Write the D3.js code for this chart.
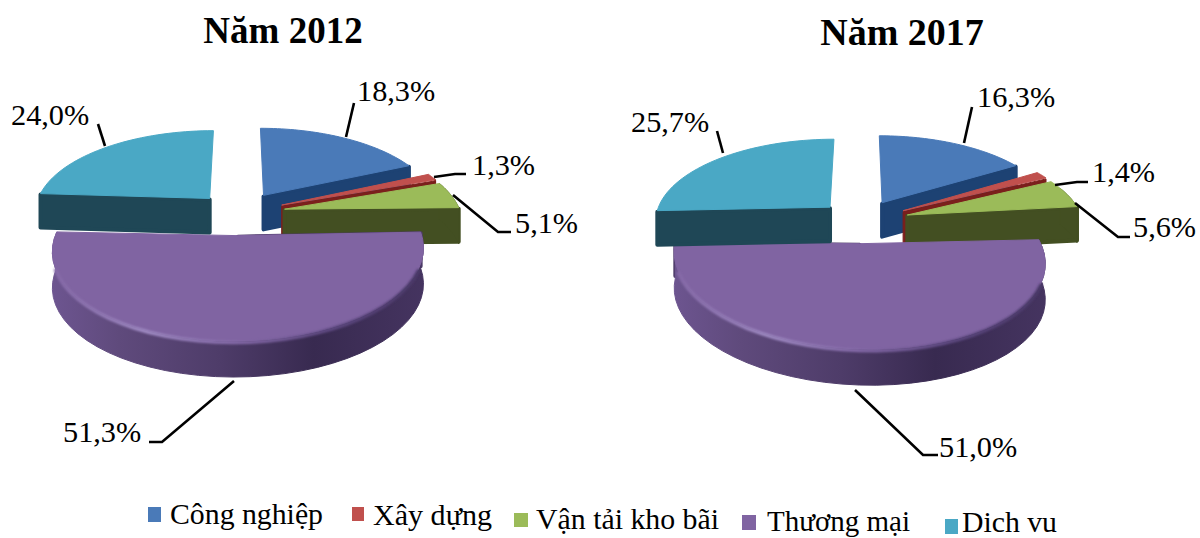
<!DOCTYPE html>
<html lang="vi"><head><meta charset="utf-8">
<script src="https://cdn.jsdelivr.net/npm/d3@7"></script>
<style>html,body{margin:0;background:#fff}svg{display:block}text{font-family:"Liberation Serif","Times New Roman",serif;fill:#000}</style>
</head><body><svg id="c" width="1200" height="538"></svg>
<script>
// ---- data ----
const categories = ["Công nghiệp","Xây dựng","Vận tải kho bãi","Thương mại","Dich vu"];
const values2012 = [18.3,1.3,5.1,51.3,24.0];
const values2017 = [16.3,1.4,5.6,51.0,25.7];
const labels2012 = ["18,3%","1,3%","5,1%","51,3%","24,0%"];
const labels2017 = ["16,3%","1,4%","5,6%","51,0%","25,7%"];
const titles = ["Năm 2012","Năm 2017"];
const topColors  = ["#4a7ab8","#c0504d","#9bbb59","#8064a2","#4aa8c5"];
const wallColors = ["#1d4273","#7b1f1c","#434f22","#4d3b68","#1f4756"];

// ---- layout ----
const svg = d3.select("#c");
const defs = svg.append("defs");
defs.append("filter").attr("id","soft").append("feGaussianBlur").attr("stdDeviation",1.1);
const R=176,H=82,K=0.15,D=36;
const explode=[0.265,0.265,0.265,0.265,0.25];
const pie = d3.pie().sort(null).value(d=>d);
const lineGen = d3.line().x(d=>d[0]).y(d=>d[1]);

const panels = [
 {id:0,values:values2012,labels:labels2012,title:titles[0],titleX:283,titleY:43,titleSize:37,cx:239,cy:213,
  nudge:[0,0,0,0,0],shear:[0,0,0,-0.01,0],
  leaders:[[[346,137],[354,103]],[[434,177],[455,174],[466,174]],[[453,195],[498,232],[511,232]],[[234,381],[162,442],[149,442]],[[105,146],[98,124]]],
  anchors:[[357,101],[472,175],[515,233],[63,442],[11,125]]},
 {id:1,values:values2017,labels:labels2017,title:titles[1],titleX:902,titleY:45,titleSize:38,cx:860,cy:221,
  nudge:[0,3,3,-4,1],shear:[0,0,0,0.03,0],
  leaders:[[[964,143],[972,107]],[[1055,185],[1077,182],[1088,182]],[[1075,203],[1118,237],[1130,237]],[[855,390],[923,455],[938,455]],[[723,153],[717,131]]],
  anchors:[[977,107],[1092,182],[1133,237],[939,457],[631,132]]}
];

function projector(p,mid,i){
  const E=explode[i], ou=E*Math.sin(mid), ov=E*Math.cos(mid), n=p.nudge[i], sh=p.shear[i];
  return (a,r,z)=>{
    const u=ou+r*Math.sin(a), v=ov+r*Math.cos(a), s=1/(1+K*v), x=R*u*s;
    return [p.cx+x+n, p.cy-H*v*s+z+sh*x];
  };
}

panels.forEach(p=>{
  const g=svg.append("g");
  const arcs=pie(p.values);
  const gid="wall"+p.id, rid="rim"+p.id;
  const addGrad=(id,stops)=>{
    const lg=defs.append("linearGradient").attr("id",id).attr("gradientUnits","userSpaceOnUse")
      .attr("x1",p.cx-187).attr("x2",p.cx+187).attr("y1",0).attr("y2",0);
    stops.forEach(s=>lg.append("stop").attr("offset",s[0]).attr("stop-color",s[1]));
  };
  addGrad(gid,[[0,"#6d5590"],[.18,"#5f4a7c"],[.45,"#4e3c69"],[.7,"#382a50"],[1,"#453460"]]);
  addGrad(rid,[[0,"#8468a6"],[.25,"#a08bc4"],[.5,"#8469a8"],[.75,"#5d4880"],[1,"#4a3968"]]);

  arcs.forEach((d,i)=>{
    const mid=(d.startAngle+d.endAngle)/2, P=projector(p,mid,i);
    const steps=d3.range(0,41).map(t=>d.startAngle+(d.endAngle-d.startAngle)*t/40);
    const top=[P(0,0,0),...steps.map(a=>P(a,1,0))];
    const s=g.append("g");
    // the visible cut face, rounded at its lower corners
    const a=mid<Math.PI?d.endAngle:d.startAngle;
    s.append("path").attr("d",lineGen([P(0,0,1),P(a,1,1),P(a,1,D-2),P(0,0,D-2)])+"Z")
     .attr("fill",wallColors[i]).attr("stroke",wallColors[i]).attr("stroke-width",i===1?1:4).attr("stroke-linejoin","round");
    // outer wall: only the part of the rim that faces the viewer
    const front=steps.filter(a=>i===3 || (Math.cos(a)<0.35 && a<=Math.PI*1.45));
    if(front.length>1){
      const wall=[...front.map(a=>P(a,1,0)),...front.slice().reverse().map(a=>P(a,1,D))];
      const wf=i===3?`url(#${gid})`:wallColors[i];
      s.append("path").attr("d",lineGen(wall)+"Z").attr("fill",wf).attr("stroke",wf).attr("stroke-width",1).attr("stroke-linejoin","round");
    }
    // top surface
    s.append("path").attr("d",lineGen(top)+"Z").attr("fill",topColors[i]).attr("stroke",topColors[i]).attr("stroke-width",1).attr("stroke-linejoin","round");
    if(i===3){
      // light bevel along the near rim only
      const rimSteps=steps.filter(a=>Math.cos(a)<-0.3);
      s.append("path").attr("d",lineGen(rimSteps.map(a=>P(a,1,1.5)))).attr("fill","none")
       .attr("stroke",`url(#${rid})`).attr("stroke-width",3.5).attr("stroke-linecap","round").attr("filter","url(#soft)");
    }
  });

  // leaders & labels
  p.leaders.forEach(l=>g.append("path").attr("d",lineGen(l)).attr("fill","none").attr("stroke","#000").attr("stroke-width",2.6));
  p.labels.forEach((t,i)=>g.append("text").attr("x",p.anchors[i][0]).attr("y",p.anchors[i][1]).attr("font-size",30.3).text(t));
  g.append("text").attr("x",p.titleX).attr("y",p.titleY).attr("text-anchor","middle").attr("font-size",p.titleSize).attr("font-weight","bold").text(p.title);
});

// legend (entries sit on a slightly slanted line in the source)
const legendSwatch=[[148,507,13,15],[352,507,12,14],[514,513,14,14],[742,515,14,15],[945,519,13,15]];
const legendText=[[170,524,153],[373,525,119],[536,529,183],[767,531,143],[962,531.5,95]];
const lg=svg.append("g");
categories.forEach((c,i)=>{
  const b=legendSwatch[i], t=legendText[i];
  lg.append("rect").attr("x",b[0]).attr("y",b[1]).attr("width",b[2]).attr("height",b[3]).attr("fill",topColors[i]);
  lg.append("text").attr("x",t[0]).attr("y",t[1]).attr("font-size",28.5)
    .attr("textLength",t[2]).attr("lengthAdjust","spacingAndGlyphs").text(c);
});
</script></body></html>
